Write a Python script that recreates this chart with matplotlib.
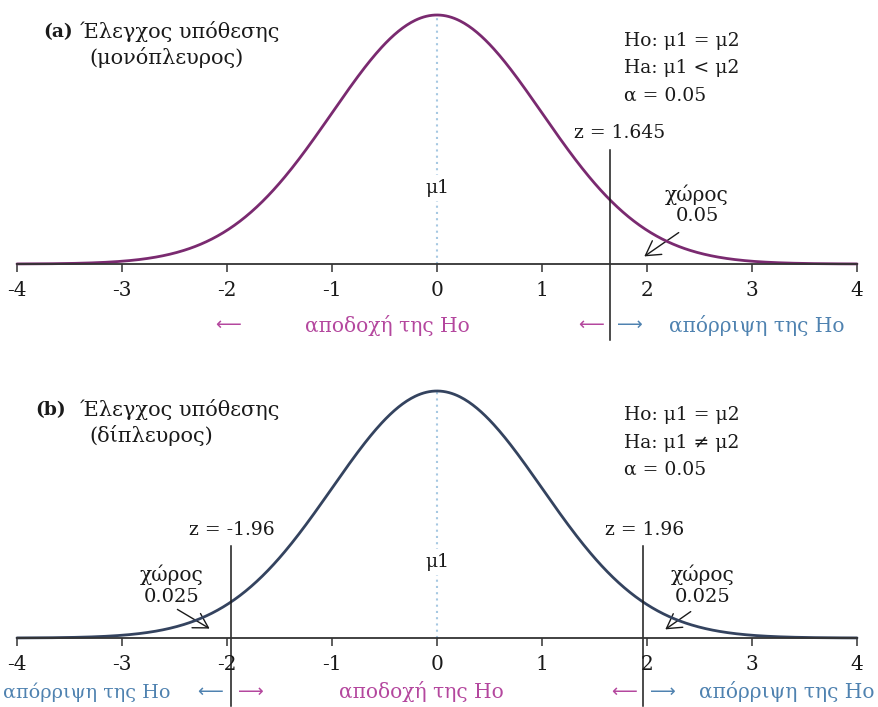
import numpy as np
import matplotlib.pyplot as plt
from matplotlib.patches import FancyArrowPatch

plt.rcParams['font.family'] = ['DejaVu Serif', 'DejaVu Sans']

# figure size in pixels
W, H = 879, 707
fig = plt.figure(figsize=(W / 100, H / 100), dpi=100)

# --- values ---------------------------------------------------------------
tick_values = [-4, -3, -2, -1, 0, 1, 2, 3, 4]
z_one_sided = 1.645
z_two_sided = 1.96
alpha = 0.05
tail_one_sided = 0.05
tail_two_sided = 0.025

accept_text = "αποδοχή της Ho"
reject_text = "απόρριψη της Ho"

# --- colours --------------------------------------------------------------
CURVE_A = "#7a2a70"
CURVE_B = "#34435f"
MAGENTA = "#b4479e"
BLUE = "#4f82b0"
DOT = "#a6c8e2"
INK = "#1a1a1a"

X0_PX, X1_PX = 17, 857  # pixel columns of x = -4 and x = 4
LEFT_ARROW = "⟵"
RIGHT_ARROW = "⟶"


def pdf(x):
    return np.exp(-x ** 2 / 2) / np.sqrt(2 * np.pi)


PEAK = pdf(0.0)


class Panel:
    def __init__(self, base_px, peak_px):
        self.base = base_px
        self.peak = peak_px
        ax = fig.add_axes([X0_PX / W, 1 - base_px / H,
                           (X1_PX - X0_PX) / W, (base_px - peak_px) / H])
        ax.set_xlim(-4, 4)
        ax.set_ylim(0, PEAK)
        for s in ("top", "right", "left"):
            ax.spines[s].set_visible(False)
        ax.spines["bottom"].set_color("#333333")
        ax.spines["bottom"].set_linewidth(1.3)
        ax.set_yticks([])
        ax.set_xticks(tick_values)
        ax.set_xticklabels([str(t) for t in tick_values], fontsize=14.5, color=INK)
        ax.tick_params(axis="x", direction="out", length=6, width=1.1,
                       color="#333333", pad=6)
        ax.patch.set_alpha(0)
        self.ax = ax

    def x(self, px):
        return (px - X0_PX) / (X1_PX - X0_PX) * 8 - 4

    def y(self, px):
        return (self.base - px) / (self.base - self.peak) * PEAK

    def text(self, px, py, s, **kw):
        kw.setdefault("fontsize", 13.5)
        kw.setdefault("color", INK)
        kw.setdefault("va", "center")
        kw.setdefault("ha", "center")
        self.ax.text(self.x(px), self.y(py), s, clip_on=False, **kw)

    def sign(self, px, py, s, color):
        self.text(px, py, s, color=color, fontsize=13,
                  family=["DejaVu Sans"])

    def curve(self, color):
        xs = np.linspace(-4, 4, 600)
        self.ax.plot(xs, pdf(xs), color=color, lw=2.0, clip_on=False,
                     solid_capstyle="round")
        self.ax.plot([0, 0], [0, PEAK], color=DOT, lw=1.5, ls=(0, (1, 2)),
                     clip_on=False, zorder=1)

    def zline(self, z, top_px, bottom_px):
        self.ax.plot([z, z], [self.y(top_px), self.y(bottom_px)],
                     color=INK, lw=1.1, clip_on=False)

    def arrow(self, p0, p1):
        a = FancyArrowPatch((self.x(p0[0]), self.y(p0[1])),
                            (self.x(p1[0]), self.y(p1[1])),
                            arrowstyle="->,head_length=6,head_width=3.5",
                            color=INK, lw=1.0, clip_on=False,
                            mutation_scale=1.7)
        self.ax.add_patch(a)


# ===================== (a) one-sided test =====================
pa = Panel(264, 15)
pa.curve(CURVE_A)
pa.text(73, 32, "(a)", fontweight="bold", ha="right", fontsize=13.5)
pa.text(80, 31, "Έλεγχος υπόθεσης", ha="left", fontsize=15)
pa.text(89, 58, "(μονόπλευρος)", ha="left", fontsize=15)

pa.text(624, 41, "Ho: μ1 = μ2", ha="left")
pa.text(624, 68, "Ha: μ1 < μ2", ha="left")
pa.text(624, 96, f"α = {alpha}", ha="left")

pa.text(437, 188, "μ1", bbox=dict(fc="white", ec="none", pad=3))

pa.zline(z_one_sided, 150, 340)
pa.text(620, 133, f"z = {z_one_sided}")
pa.text(697, 195, "χώρος", fontsize=14.5)
pa.text(697, 216, f"{tail_one_sided}", fontsize=14)
pa.arrow((681, 231), (642, 258))

pa.sign(228, 325, LEFT_ARROW, MAGENTA)
pa.text(387, 325, accept_text, color=MAGENTA, fontsize=14.5)
pa.sign(591, 325, LEFT_ARROW, MAGENTA)
pa.sign(630, 325, RIGHT_ARROW, BLUE)
pa.text(757, 325, reject_text, color=BLUE, fontsize=14.5)

# ===================== (b) two-sided test =====================
pb = Panel(638, 391)
pb.curve(CURVE_B)
pb.text(66, 410, "(b)", fontweight="bold", ha="right", fontsize=13.5)
pb.text(80, 410, "Έλεγχος υπόθεσης", ha="left", fontsize=15)
pb.text(89, 436, "(δίπλευρος)", ha="left", fontsize=15)

pb.text(624, 415, "Ho: μ1 = μ2", ha="left")
pb.text(624, 443, "Ha: μ1 ≠ μ2", ha="left")
pb.text(624, 470, f"α = {alpha}", ha="left")

pb.text(437, 562, "μ1", bbox=dict(fc="white", ec="none", pad=3))

pb.zline(-z_two_sided, 546, 706)
pb.zline(z_two_sided, 546, 706)
pb.text(232, 530, f"z = {-z_two_sided}")
pb.text(645, 530, f"z = {z_two_sided}")

pb.text(172, 575, "χώρος", fontsize=14.5)
pb.text(172, 597, f"{tail_two_sided}", fontsize=14)
pb.arrow((175, 608), (212, 630))
pb.text(703, 575, "χώρος", fontsize=14.5)
pb.text(703, 597, f"{tail_two_sided}", fontsize=14)
pb.arrow((693, 610), (663, 631))

pb.text(3, 692, reject_text, color=BLUE, fontsize=13.8, ha="left")
pb.sign(210, 692, LEFT_ARROW, BLUE)
pb.sign(251, 692, RIGHT_ARROW, MAGENTA)
pb.text(421, 692, accept_text, color=MAGENTA, fontsize=14.5)
pb.sign(624, 692, LEFT_ARROW, MAGENTA)
pb.sign(663, 692, RIGHT_ARROW, BLUE)
pb.text(787, 692, reject_text, color=BLUE, fontsize=14.5)

fig.savefig("out.png", dpi=100, facecolor="white")
